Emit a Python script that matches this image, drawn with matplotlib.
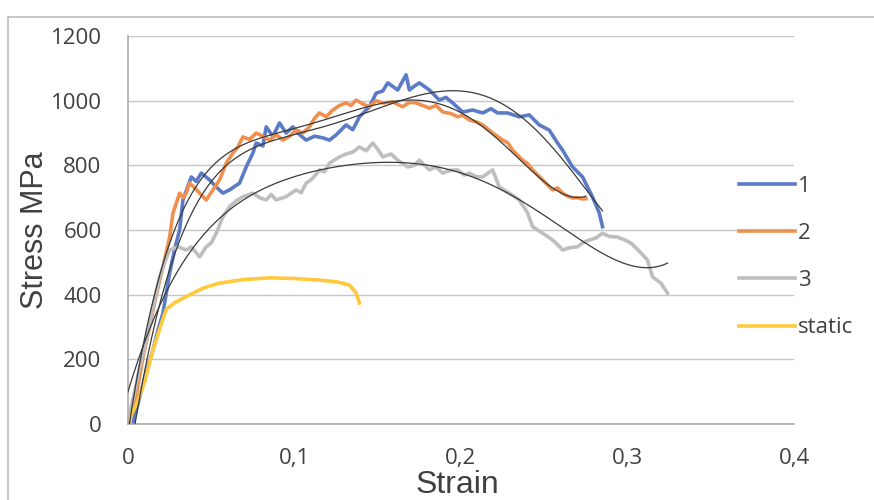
import numpy as np
import matplotlib
matplotlib.use("Agg")
from matplotlib import pyplot as plt
from matplotlib.patches import Rectangle

# strain / stress (MPa)
s1_x = [0.003, 0.007, 0.011, 0.015, 0.018, 0.021, 0.025, 0.028, 0.031, 0.033, 0.038, 0.041,
        0.044, 0.049, 0.053, 0.057, 0.061, 0.067, 0.071, 0.075, 0.077, 0.081, 0.083, 0.087,
        0.091, 0.095, 0.099, 0.103, 0.107, 0.112, 0.117, 0.121, 0.125, 0.131, 0.135, 0.139,
        0.145, 0.149, 0.153, 0.156, 0.162, 0.167, 0.169, 0.172, 0.175, 0.181, 0.187, 0.191,
        0.195, 0.201, 0.207, 0.213, 0.218, 0.222, 0.228, 0.235, 0.241, 0.247, 0.253, 0.258,
        0.261, 0.267, 0.273, 0.279, 0.283, 0.285]
s1_y = [3, 83, 160, 229, 290, 343, 467, 540, 600, 693, 764, 750,
        776, 755, 733, 714, 724, 745, 795, 838, 869, 860, 919, 890,
        931, 900, 919, 895, 878, 890, 885, 878, 894, 925, 910, 950,
        981, 1023, 1030, 1055, 1033, 1080, 1033, 1045, 1055, 1033, 1002, 1010,
        993, 965, 971, 962, 975, 962, 962, 950, 956, 925, 909, 869,
        847, 795, 764, 702, 653, 610]

s2_x = [0.000, 0.004, 0.009, 0.013, 0.017, 0.021, 0.025, 0.027, 0.029, 0.031, 0.033, 0.035,
        0.037, 0.040, 0.043, 0.047, 0.051, 0.055, 0.059, 0.063, 0.066, 0.069, 0.073, 0.077,
        0.081, 0.085, 0.089, 0.093, 0.097, 0.101, 0.105, 0.109, 0.112, 0.115, 0.119, 0.123,
        0.127, 0.131, 0.134, 0.137, 0.141, 0.145, 0.149, 0.153, 0.159, 0.165, 0.169, 0.173,
        0.177, 0.181, 0.185, 0.189, 0.194, 0.198, 0.201, 0.205, 0.209, 0.213, 0.219, 0.225,
        0.228, 0.231, 0.237, 0.240, 0.243, 0.249, 0.255, 0.258, 0.261, 0.264, 0.267, 0.270,
        0.273, 0.275]
s2_y = [0, 60, 207, 300, 400, 486, 578, 652, 683, 714, 700, 714,
        745, 730, 714, 693, 724, 755, 807, 838, 857, 888, 880, 900,
        890, 878, 895, 878, 890, 909, 900, 919, 945, 962, 950, 971,
        985, 993, 985, 1002, 990, 981, 1000, 993, 996, 981, 995, 993,
        985, 977, 985, 965, 960, 950, 955, 940, 935, 925, 900, 878,
        870, 847, 816, 805, 786, 755, 724, 730, 714, 705, 699, 700,
        696, 697]

s3_x = [0.000, 0.004, 0.007, 0.011, 0.015, 0.019, 0.022, 0.025, 0.030, 0.035, 0.038, 0.043,
        0.047, 0.050, 0.053, 0.057, 0.061, 0.065, 0.069, 0.075, 0.079, 0.083, 0.086, 0.089,
        0.095, 0.101, 0.104, 0.107, 0.111, 0.115, 0.118, 0.121, 0.127, 0.131, 0.135, 0.139,
        0.143, 0.147, 0.150, 0.153, 0.158, 0.162, 0.168, 0.172, 0.175, 0.181, 0.185, 0.189,
        0.194, 0.198, 0.202, 0.205, 0.209, 0.213, 0.216, 0.219, 0.223, 0.229, 0.235, 0.240,
        0.243, 0.249, 0.252, 0.255, 0.258, 0.261, 0.265, 0.270, 0.273, 0.277, 0.281, 0.285,
        0.289, 0.294, 0.298, 0.302, 0.307, 0.312, 0.315, 0.320, 0.324]
s3_y = [10, 100, 176, 260, 360, 455, 500, 538, 548, 538, 548, 517,
        548, 560, 590, 641, 672, 690, 703, 714, 700, 693, 710, 693,
        703, 724, 715, 745, 760, 786, 780, 807, 826, 835, 841, 857,
        845, 869, 850, 826, 835, 816, 795, 800, 816, 786, 795, 776,
        785, 786, 770, 776, 765, 764, 775, 786, 733, 714, 693, 653,
        610, 590, 580, 569, 555, 538, 545, 548, 560, 569, 575, 590,
        580, 578, 570, 560, 535, 507, 455, 436, 405]

st_x = [0.000, 0.005, 0.010, 0.015, 0.020, 0.023, 0.028, 0.035, 0.045, 0.055, 0.070, 0.085,
        0.100, 0.115, 0.125, 0.133, 0.137, 0.139]
st_y = [10, 60, 130, 229, 310, 355, 375, 394, 420, 436, 447, 452,
        450, 445, 440, 430, 405, 374]

labels = ['1', '2', '3', 'static']
colors = ['#5B7BC6', '#F0904F', '#BEBEBE', '#FFC93C']
x_ticks = [0, 0.1, 0.2, 0.3, 0.4]
x_tick_labels = ['0', '0,1', '0,2', '0,3', '0,4']
y_ticks = [0, 200, 400, 600, 800, 1000, 1200]

tick_font = ['Open Sans', 'DejaVu Sans']
title_font = ['Liberation Sans', 'DejaVu Sans']
txt_color = '#404040'

fig = plt.figure(figsize=(8.74, 5), dpi=100)
ax = fig.add_axes([128 / 874, 1 - 424 / 500, 666 / 874, 388 / 500])

series = [(s1_x, s1_y), (s2_x, s2_y), (s3_x, s3_y), (st_x, st_y)]
for (xs, ys), lab, col in zip(series, labels, colors):
    ax.plot(xs, ys, color=col, lw=2.6, label=lab, solid_joinstyle='round', zorder=2)

# polynomial trendlines for the three dynamic tests
for xs, ys in series[:3]:
    xs = np.array(xs)
    coef = np.polyfit(xs, ys, 5)
    xx = np.linspace(xs.min(), xs.max(), 200)
    ax.plot(xx, np.polyval(coef, xx), color='#3a3a3a', lw=0.9, zorder=3)

ax.set_xlim(0, 0.4)
ax.set_ylim(0, 1200)
ax.set_xticks(x_ticks)
ax.set_xticklabels(x_tick_labels, family=tick_font, fontsize=16, color=txt_color)
ax.set_yticks(y_ticks)
ax.set_yticklabels([str(v) for v in y_ticks], family=tick_font, fontsize=16, color=txt_color)
ax.tick_params(axis='x', length=0, pad=17)
ax.tick_params(axis='y', length=0, pad=19)
ax.yaxis.grid(True, color='#C6C6C6', lw=1)
ax.set_axisbelow(True)
for side in ['top', 'right']:
    ax.spines[side].set_visible(False)
for side in ['left', 'bottom']:
    ax.spines[side].set_color('#ABABAB')
    ax.spines[side].set_linewidth(1.2)

fig.text(457.5 / 874, 1 - 493 / 500, 'Strain', family=title_font, fontsize=23,
         color=txt_color, ha='center', va='baseline')
fig.text(43 / 874, 1 - 230 / 500, 'Stress MPa', family=title_font, fontsize=22,
         color=txt_color, rotation=90, rotation_mode='anchor', ha='center', va='baseline')

leg = fig.legend(loc='center left', bbox_to_anchor=(739 / 874, 1 - 257 / 500),
                 frameon=False, prop={'family': tick_font, 'size': 16},
                 handlelength=2.5, handletextpad=0.15, labelspacing=1.18,
                 borderpad=0, borderaxespad=0)
for t in leg.get_texts():
    t.set_color(txt_color)

# outer chart border
fig.add_artist(Rectangle((8 / 874, -0.1), 1.2, 1 - 17 / 500 + 0.1,
                         transform=fig.transFigure, fill=False,
                         edgecolor='#BFBFBF', lw=1.2))

fig.savefig('out.png', dpi=100)
